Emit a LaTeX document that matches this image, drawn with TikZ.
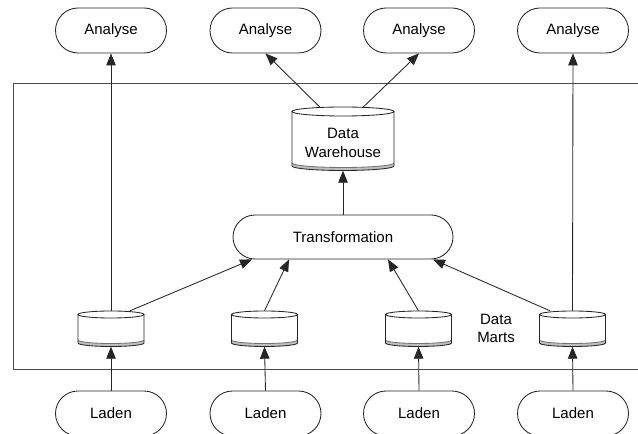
\documentclass[tikz,border=0pt]{standalone}
\usepackage{fontspec}
\setmainfont{Liberation Sans}
\usetikzlibrary{arrows.meta}

% database cylinder: centre x, y of top ellipse, y of bottom arc, half width, vertical radius
\newcommand\dbcyl[5]{%
  \fill[white] ({#1-#4},{#2}) -- ({#1-#4},{#3})
    arc[start angle=180,end angle=360,x radius=#4,y radius=#5] -- ({#1+#4},{#2}) -- cycle;
  \fill[black!25] ({#1-#4},{#3+3}) arc[start angle=180,end angle=360,x radius=#4,y radius=#5]
    -- ({#1+#4},{#3}) arc[start angle=360,end angle=180,x radius=#4,y radius=#5] -- cycle;
  \draw[ln,black!55] ({#1-#4},{#3+3}) arc[start angle=180,end angle=360,x radius=#4,y radius=#5];
  \draw[ln] ({#1-#4},{#2}) -- ({#1-#4},{#3})
    arc[start angle=180,end angle=360,x radius=#4,y radius=#5] -- ({#1+#4},{#2});
  \draw[ln,fill=white] ({#1},{#2}) ellipse[x radius=#4,y radius=#5];
}

\tikzset{
  ln/.style={draw=black!85, line width=0.85pt},
  term/.style={ln, fill=white, rounded corners=22.5pt, minimum width=111pt,
    minimum height=45pt, inner sep=0pt},
  arr/.style={ln, -{Triangle[length=12pt,width=9.5pt]}},
  store/.style={minimum width=66pt, minimum height=35.5pt, inner sep=0pt},
  frame/.style={draw=black!70, line width=0.85pt},
}

\begin{document}
\begin{tikzpicture}[x=1pt,y=1pt,font=\fontsize{15pt}{18pt}\selectfont]
\useasboundingbox (0,0) rectangle (638,434);
\clip (0,0) rectangle (638,434);
\fill[white] (0,0) rectangle (638,434);

% system boundary
\draw[frame] (13,351) rectangle (660,65);

% analysis front ends
\node[term] (a1) at (111,403.5) {Analyse};
\node[term] (a2) at (265.5,403.5) {Analyse};
\node[term] (a3) at (419,403.5) {Analyse};
\node[term] (a4) at (573,403.5) {Analyse};

% load processes
\node[term] (l1) at (111,20.5) {Laden};
\node[term] (l2) at (265.5,20.5) {Laden};
\node[term] (l3) at (419,20.5) {Laden};
\node[term] (l4) at (573,20.5) {Laden};

% transformation step
\node[term, minimum width=220pt, minimum height=44pt, rounded corners=22pt] (tr) at (343,197) {Transformation};

% data marts
\node[store] (m1) at (111,105.25) {};
\node[store] (m2) at (264.5,105.25) {};
\node[store] (m3) at (418.5,105.25) {};
\node[store] (m4) at (572.5,105.25) {};
\node[align=center, font=\fontsize{15pt}{18pt}\selectfont] (dm) at (496,105.5) {Data\\Marts};

% connectors
\draw[arr] (l1.north) -- (m1.south);
\draw[arr] (l2.north) -- (m2.south);
\draw[arr] (l3.north) -- (m3.south);
\draw[arr] (l4.north) -- (m4.south);
\draw[arr] (m1.north) -- (a1.south);
\draw[arr] (m4.north) -- (a4.south);
\draw[arr] ([xshift=19pt]m1.north) -- ([xshift=-91pt]tr.south);
\draw[arr] (m2.north) -- ([xshift=-54pt]tr.south);
\draw[arr] (m3.north) -- ([xshift=45pt]tr.south);
\draw[arr] ([xshift=-22.5pt]m4.north) -- ([xshift=90pt]tr.south);

% cylinder bodies, then the warehouse node on top
\dbcyl{111}{119.5}{91}{33}{3.5}
\dbcyl{264.5}{119.5}{91}{33}{3.5}
\dbcyl{418.5}{119.5}{91}{33}{3.5}
\dbcyl{572.5}{119.5}{91}{33}{3.5}
\dbcyl{343}{322.5}{268}{51}{4.5}
\node[minimum width=102pt, minimum height=70.6pt, inner sep=0pt, align=center,
  font=\fontsize{15pt}{19.7pt}\selectfont] (dw) at (343,291.2) {Data\\Warehouse};
\draw[arr, shorten >=-7.6pt] (tr.north) -- (dw.south);
\draw[arr] ([xshift=-23pt]dw.north) -- (a2.south);
\draw[arr] ([xshift=20pt]dw.north) -- (a3.south);
\end{tikzpicture}
\end{document}
